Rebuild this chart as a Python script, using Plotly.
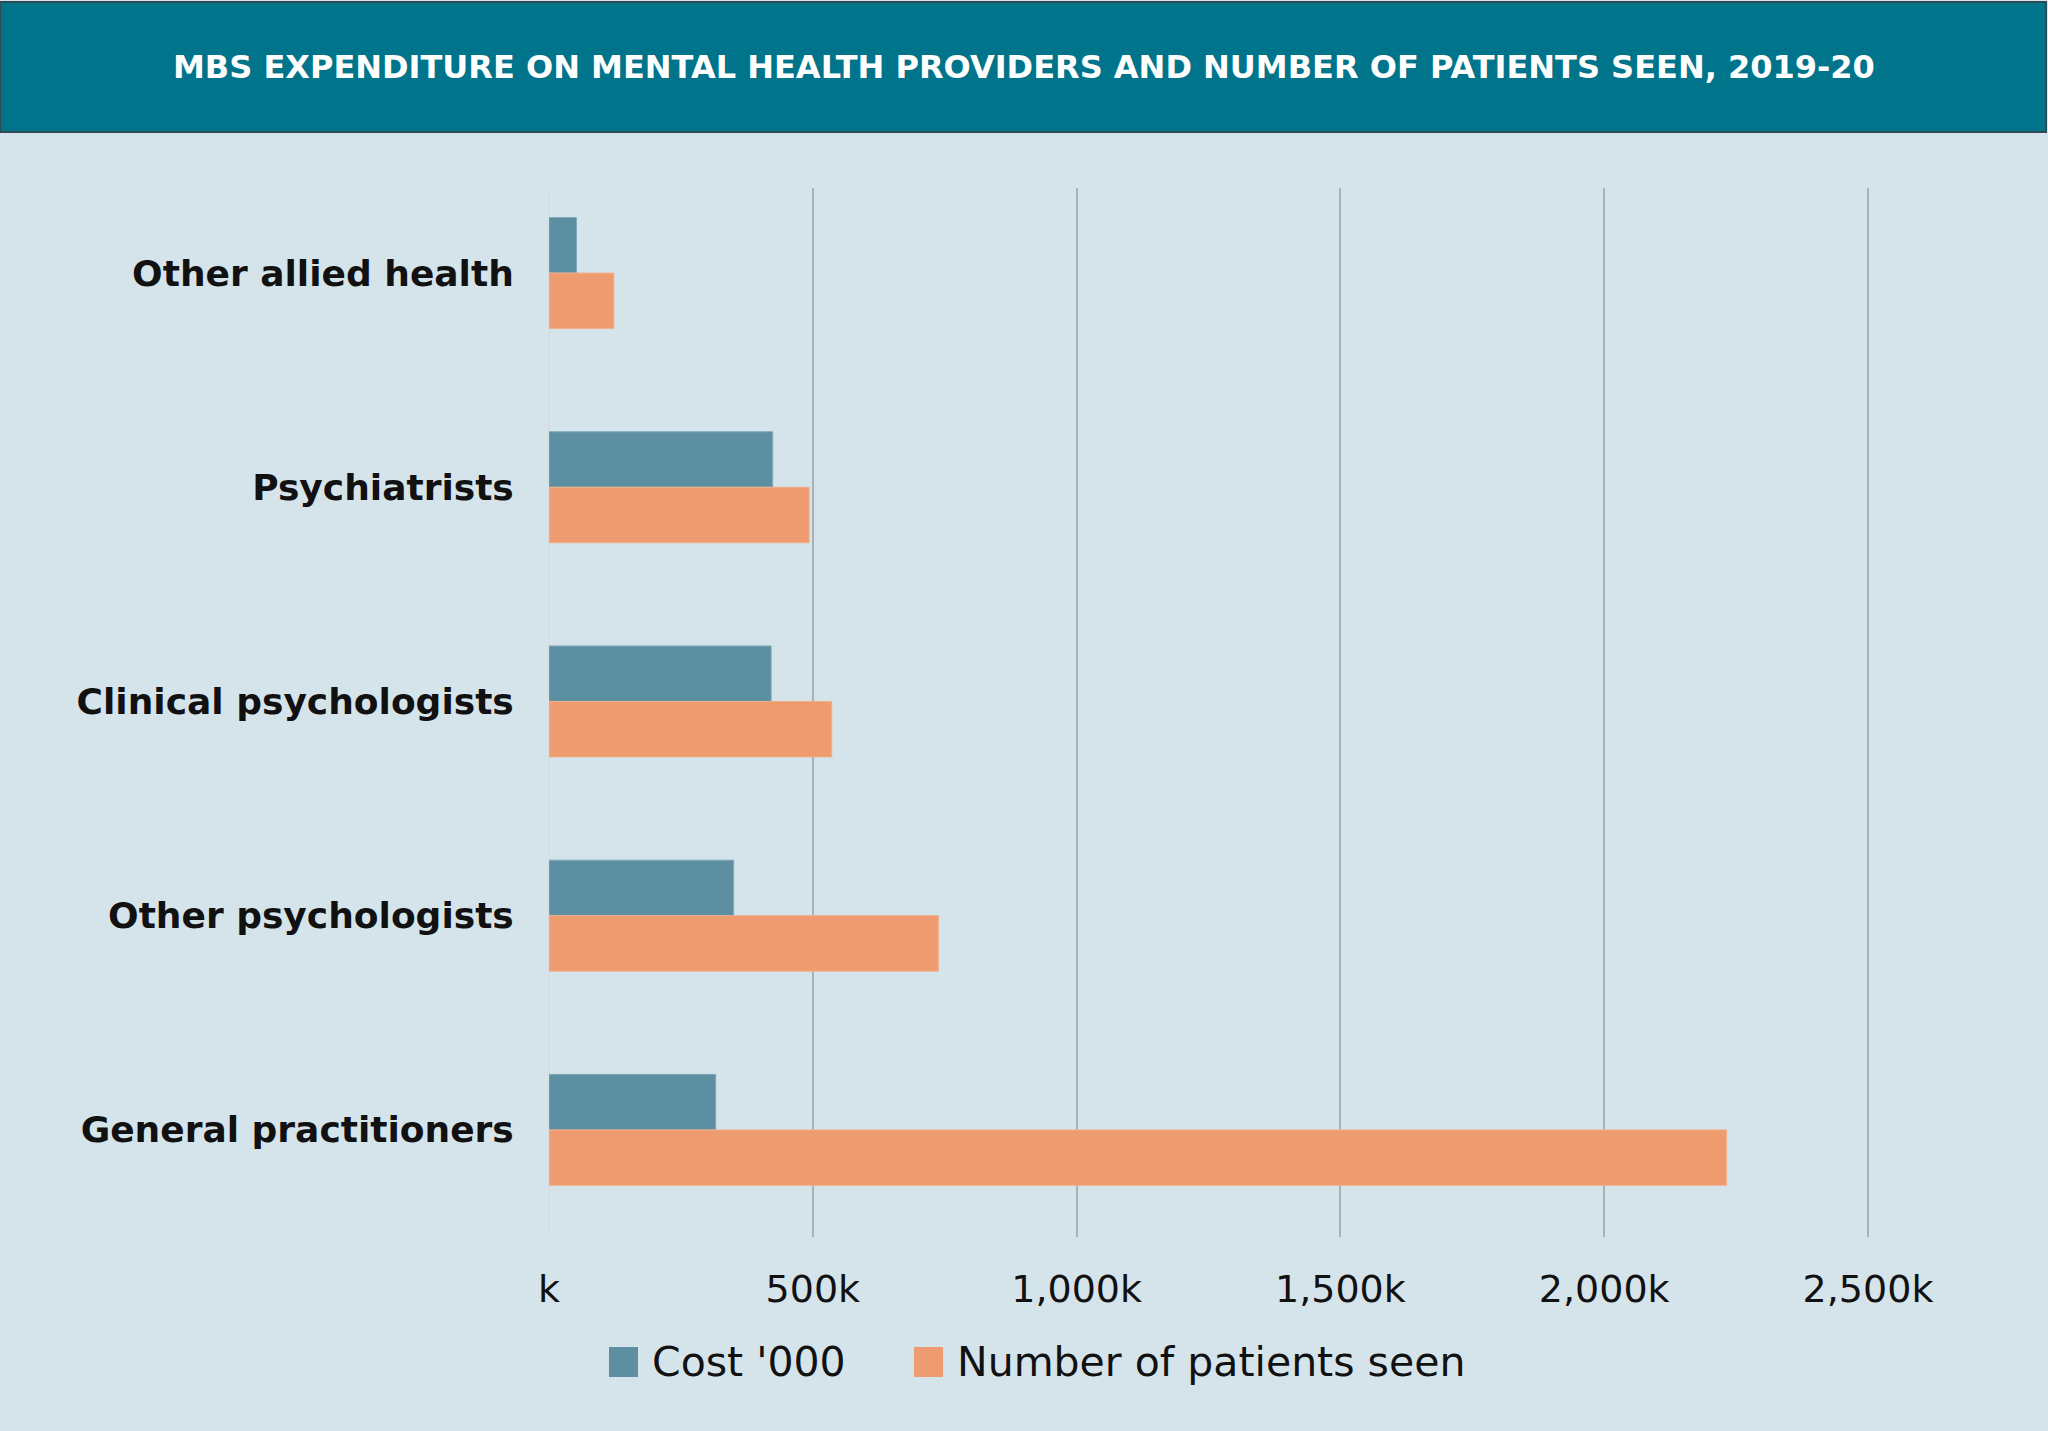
import plotly.graph_objects as go

# ---- data ----
categories = ["General practitioners", "Other psychologists", "Clinical psychologists",
              "Psychiatrists", "Other allied health"]
cost_000 = [316000, 350000, 421000, 424000, 52000]
patients_seen = [2232000, 738000, 536000, 493000, 123000]
series_names = ["Cost '000", "Number of patients seen"]
x_tickvals = [0, 500000, 1000000, 1500000, 2000000, 2500000]
x_ticktext = ["k", "500k", "1,000k", "1,500k", "2,000k", "2,500k"]
title_text = "MBS EXPENDITURE ON MENTAL HEALTH PROVIDERS AND NUMBER OF PATIENTS SEEN, 2019-20"

# ---- style ----
W, H = 2048, 1431
ML, MR, MT, MB = 549, 178, 188, 194
BG = "#D5E4EB"
TEAL = "#5B8FA1"
ORANGE = "#EE9B6F"
HEADER = "#00748B"
FONT = "DejaVu Sans"
BAR_W = 0.259

pw = W - ML - MR
ph = H - MT - MB


def px_x(px):
    return (px - ML) / pw


def px_y(py):
    return (H - MB - py) / ph


fig = go.Figure()
fig.add_trace(go.Bar(y=categories, x=cost_000, orientation="h", name=series_names[0],
                     marker=dict(color=TEAL, line=dict(width=1, color="#7FA8B8")),
                     width=BAR_W, offset=0, showlegend=False))
fig.add_trace(go.Bar(y=categories, x=patients_seen, orientation="h", name=series_names[1],
                     marker=dict(color=ORANGE, line=dict(width=1, color="#F2B08C")),
                     width=BAR_W, offset=-BAR_W, showlegend=False))

fig.update_layout(
    width=W, height=H,
    margin=dict(l=ML, r=MR, t=MT, b=MB, pad=0),
    paper_bgcolor=BG, plot_bgcolor=BG,
    font=dict(family=FONT, color="#111111"),
    barmode="group",
    xaxis=dict(range=[0, 2503800], tickvals=x_tickvals, ticktext=x_ticktext,
               showgrid=True, gridcolor="#AEB1B3", gridwidth=2,
               zeroline=True, zerolinecolor="#D9DDE0", zerolinewidth=2,
               ticks="outside", ticklen=18, tickcolor="rgba(0,0,0,0)",
               tickfont=dict(family=FONT, size=38, color="#111111"),
               showline=False, fixedrange=True),
    yaxis=dict(type="category", categoryorder="array", categoryarray=categories,
               range=[-0.5, 4.397], showgrid=False, zeroline=False, showline=False,
               ticks="outside", ticklen=27, tickcolor="rgba(0,0,0,0)",
               tickfont=dict(family=FONT, size=36, color="#111111", weight="bold"),
               fixedrange=True),
    showlegend=False,
)

# header band
fig.add_shape(type="rect", xref="paper", yref="paper",
              x0=px_x(0), x1=px_x(2046), y0=px_y(132), y1=px_y(2),
              fillcolor=HEADER, line=dict(color="#2F4A55", width=2), layer="above")
fig.add_annotation(xref="paper", yref="paper", x=px_x(1024), y=px_y(67),
                   text="<b>" + title_text + "</b>", showarrow=False,
                   xanchor="center", yanchor="middle",
                   font=dict(family=FONT, size=32, color="#FFFFFF"))

# legend (manual, to match large swatches)
legend_items = [(series_names[0], TEAL, 609, 638), (series_names[1], ORANGE, 914, 943)]
for name, color, sx0, sx1 in legend_items:
    fig.add_shape(type="rect", xref="paper", yref="paper",
                  x0=px_x(sx0), x1=px_x(sx1), y0=px_y(1377), y1=px_y(1347),
                  fillcolor=color, line=dict(width=0))
    fig.add_annotation(xref="paper", yref="paper", x=px_x(sx1 + 12), y=px_y(1362),
                       text=name, showarrow=False, xanchor="left", yanchor="middle",
                       font=dict(family=FONT, size=41, color="#111111"))

fig.write_html("out.html", config={"displayModeBar": False},
               post_script="document.body.style.margin='0';document.body.style.background='" + BG + "';")
